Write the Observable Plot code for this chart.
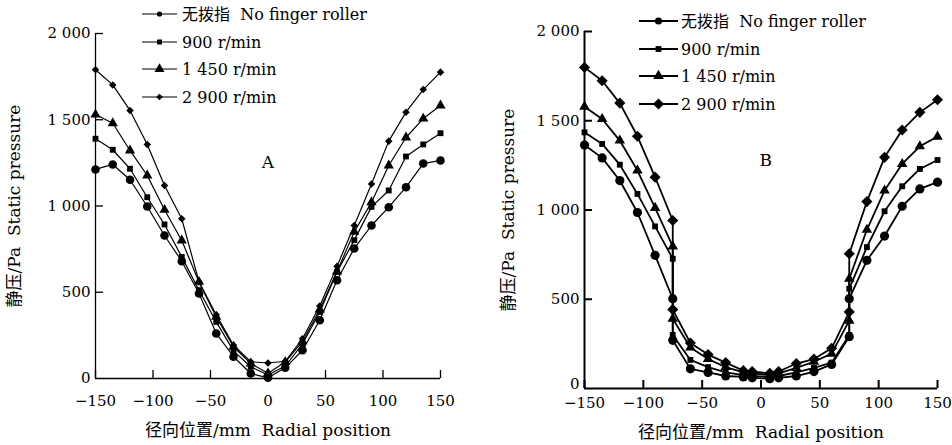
<!DOCTYPE html>
<html><head><meta charset="utf-8">
<script src="https://cdn.jsdelivr.net/npm/d3@7"></script>
<script src="https://cdn.jsdelivr.net/npm/@observablehq/plot@0.6"></script>
<style>
body{margin:0;background:#fff;}
#wrap{display:flex;width:952px;height:445px;overflow:hidden;}
.panel{position:relative;width:476px;height:445px;}
.legend{position:absolute;left:0;top:0;}
svg text{white-space:pre;}
</style></head><body>
<div id="wrap"><div class="panel" id="pA"></div><div class="panel" id="pB"></div></div>
<script>
// ---- labels ----
const seriesNames = ["无拨指  No finger roller", "900 r/min", "1 450 r/min", "2 900 r/min"];
const seriesSymbols = ["circle", "square", "triangle", "diamond2"];
const xTicks = [-150, -100, -50, 0, 50, 100, 150];
const xTickLabels = ["−150", "−100", "−50", "0", "50", "100", "150"];
const yTicks = [0, 500, 1000, 1500, 2000];
const yTickLabels = ["0", "500", "1 000", "1 500", "2 000"];
const xTitle = "径向位置/mm  Radial position";
const yTitle = "静压/Pa  Static pressure";
const panelNames = ["A", "B"];
const panelLabelX = [0, 4];
const panelLabelY = [1252, 1277];

// ---- panel A data ----
const xA = [-150,-135,-120,-105,-90,-75,-60,-45,-30,-15,0,15,30,45,60,75,90,105,120,135,150];
const A_none = [1212,1241,1152,997,829,680,493,261,126,29,4,62,164,338,570,754,887,993,1109,1246,1264];
const A_900  = [1390,1326,1216,1051,893,705,512,328,160,68,20,72,200,386,618,802,995,1090,1287,1357,1422];
const A_1450 = [1530,1480,1322,1177,978,800,560,357,184,87,30,95,215,400,620,850,1022,1235,1397,1507,1583];
const A_2900 = [1790,1702,1554,1357,1119,926,560,370,193,97,90,100,230,420,650,887,1128,1376,1544,1675,1776];

// ---- panel B data ----
const xB = [-150,-135,-120,-105,-90,-75,-75,-60,-45,-30,-15,-7.5,7.5,15,30,45,60,75,75,90,105,120,135,150];
const B_none = [1364,1292,1165,986,746,503,270,110,90,70,65,60,55,60,70,95,135,290,503,718,854,1021,1118,1156];
const B_900  = [1435,1370,1254,1090,908,727,300,160,120,90,75,70,65,70,90,115,145,300,559,792,993,1133,1230,1280];
const B_1450 = [1579,1510,1389,1221,1012,796,391,230,165,120,90,85,75,85,115,150,195,380,615,889,1109,1258,1357,1411];
const B_2900 = [1799,1724,1599,1413,1184,941,442,255,190,145,100,95,85,95,140,165,225,429,755,1047,1295,1448,1547,1618];

const FONT = "'DejaVu Serif', 'Noto Sans CJK SC', serif";

function makePanel(cfg) {
  const yFmt = d => yTickLabels[yTicks.indexOf(d)];
  const marks = [
    Plot.ruleY([0], {stroke: "black", strokeWidth: cfg.axisW}),
    Plot.ruleX([-150], {stroke: "black", strokeWidth: cfg.axisW}),
    Plot.axisX(xTicks, {label: null, tickSize: -8, tickPadding: cfg.xPad, strokeWidth: cfg.axisW, fontSize: 15,
      tickFormat: d => xTickLabels[xTicks.indexOf(d)]}),
    Plot.axisY(yTicks.slice(1), {label: null, tickSize: -8, tickPadding: 13, strokeWidth: cfg.axisW, fontSize: 15,
      tickFormat: yFmt}),
    Plot.axisY(yTicks.slice(0, 1), {label: null, tickSize: 0, tickPadding: 5, fontSize: 15,
      dy: cfg.zeroDy, tickFormat: yFmt}),
    Plot.text([xTitle], {frameAnchor: "bottom", dy: cfg.xTitleDy, fontSize: 17, lineAnchor: "middle", textAnchor: "middle"}),
    Plot.text([yTitle], {frameAnchor: "left", dx: cfg.yTitleDx, rotate: -90, fontSize: 17, lineAnchor: "middle", textAnchor: "middle"}),
    Plot.text([cfg.name], {x: () => cfg.labelX, y: () => cfg.labelY, fontSize: 17})
  ];
  cfg.series.forEach((vals, i) => {
    const rows = cfg.xs.map((x, j) => ({x, y: vals[j]}));
    marks.push(Plot.line(rows, {x: "x", y: "y", stroke: "black", strokeWidth: cfg.lineW}));
    marks.push(Plot.dot(rows, {x: "x", y: "y", symbol: seriesSymbols[i], r: cfg.r[i], fill: "black", stroke: "none"}));
  });
  const chart = Plot.plot({
    width: 476, height: 445,
    marginLeft: cfg.ml, marginRight: cfg.mr, marginTop: cfg.mt, marginBottom: cfg.mb,
    x: {domain: [-150, 150], axis: null},
    y: {domain: [0, 2000], axis: null},
    style: {fontFamily: FONT, fontSize: "15px", color: "black", background: "white"},
    marks
  });
  const host = document.getElementById(cfg.id);
  host.appendChild(chart);

  // legend overlay
  const lg = d3.select(host).append("svg").attr("class", "legend")
    .attr("width", 476).attr("height", 120)
    .style("font-family", FONT);
  seriesNames.forEach((name, i) => {
    const y = cfg.legY[i];
    lg.append("line").attr("x1", cfg.legX1).attr("x2", cfg.legX2).attr("y1", y).attr("y2", y)
      .attr("stroke", "black").attr("stroke-width", cfg.legLineW);
    const sym = d3.symbol(d3["symbol" + seriesSymbols[i][0].toUpperCase() + seriesSymbols[i].slice(1)],
      Math.PI * cfg.legR[i] * cfg.legR[i]);
    lg.append("path").attr("d", sym()).attr("transform", `translate(${(cfg.legX1 + cfg.legX2) / 2},${y})`)
      .attr("fill", "black");
    lg.append("text").attr("x", cfg.legTX).attr("y", y).attr("dy", "0.36em")
      .attr("font-size", 16).text(name);
  });
}

makePanel({
  id: "pA", name: panelNames[0], labelX: panelLabelX[0], labelY: panelLabelY[0],
  xs: xA, series: [A_none, A_900, A_1450, A_2900],
  ml: 95, mr: 36, mt: 33, mb: 67, axisW: 1.3, lineW: 1.2, xPad: 25, zeroDy: 0,
  xTitleDy: 52, yTitleDx: -81,
  r: [4.3, 3.3, 3.8, 3.4],
  legY: [14, 42, 69, 97], legX1: 142, legX2: 177, legTX: 182, legLineW: 1.2, legR: [2.6, 2.8, 3.7, 3.0]
});
makePanel({
  id: "pB", name: panelNames[1], labelX: panelLabelX[1], labelY: panelLabelY[1],
  xs: xB, series: [B_none, B_900, B_1450, B_2900],
  ml: 108, mr: 15, mt: 31, mb: 57, axisW: 2, lineW: 1.8, xPad: 17, zeroDy: -4,
  xTitleDy: 44, yTitleDx: -76,
  r: [4.6, 3.3, 3.9, 5.0],
  legY: [21, 49, 76, 104], legX1: 163, legX2: 202, legTX: 205, legLineW: 2.2, legR: [3.6, 3.3, 4.0, 5.0]
});
</script>
</body></html>
